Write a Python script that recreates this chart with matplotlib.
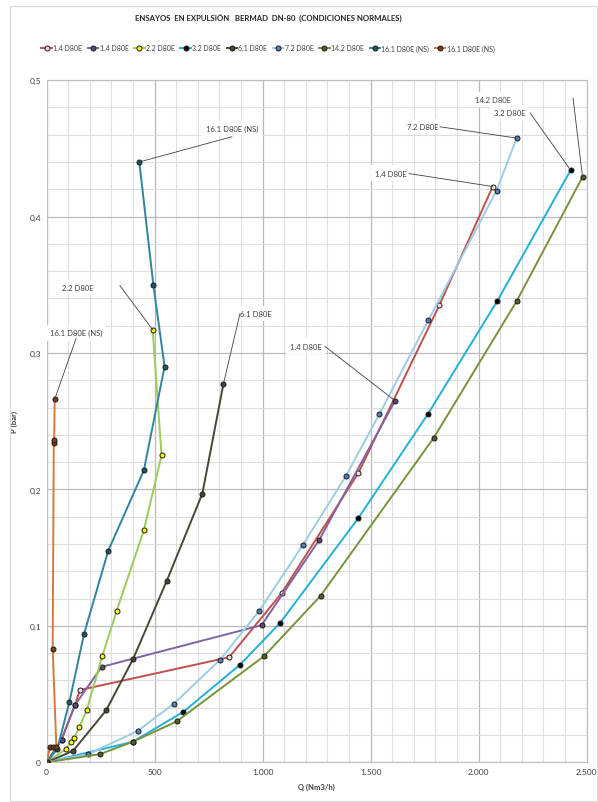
import matplotlib
matplotlib.use("Agg")
import matplotlib.pyplot as plt
from matplotlib.ticker import MultipleLocator, FuncFormatter
from matplotlib.patches import Rectangle

plt.rcParams['font.family'] = ['Lato', 'DejaVu Sans']

# Caudal Q (Nm3/h) y presión P (bar) de cada ensayo
q_14a = [0, 69, 131, 154, 845, 1088, 1443, 1818, 2065]
p_14a = [0, 0.0166, 0.042, 0.053, 0.077, 0.124, 0.212, 0.335, 0.422]

q_14b = [0, 69, 131, 255, 995, 1262, 1613]
p_14b = [0, 0.0166, 0.042, 0.070, 0.1005, 0.163, 0.265]

q_22 = [0, 89, 111, 128, 151, 185, 258, 324, 450, 532, 491]
p_22 = [0, 0.0097, 0.0146, 0.018, 0.026, 0.038, 0.078, 0.111, 0.170, 0.225, 0.317]

q_32 = [0, 398, 633, 895, 1080, 1443, 1764, 2086, 2426]
p_32 = [0, 0.015, 0.037, 0.0715, 0.102, 0.179, 0.255, 0.338, 0.434]

q_61 = [0, 123, 275, 401, 556, 721, 818]
p_61 = [0, 0.0085, 0.038, 0.076, 0.133, 0.197, 0.277]

q_72 = [0, 193, 421, 589, 802, 984, 1185, 1386, 1540, 1767, 2083, 2176]
p_72 = [0, 0.006, 0.023, 0.043, 0.075, 0.111, 0.159, 0.210, 0.255, 0.324, 0.419, 0.4575]

q_142 = [0, 247, 398, 602, 1008, 1268, 1793, 2176, 2481]
p_142 = [0, 0.006, 0.015, 0.030, 0.078, 0.122, 0.238, 0.338, 0.429]

q_161a = [0, 49, 105, 173, 285, 450, 546, 494, 429]
p_161a = [0, 0.0097, 0.044, 0.094, 0.155, 0.214, 0.290, 0.350, 0.440]

q_161b = [0, 15, 30, 45, 28, 33, 35, 37]
p_161b = [0, 0.011, 0.011, 0.011, 0.083, 0.234, 0.236, 0.266]

series = [
    ('1.4 D80E', q_14a, p_14a, '#C0504D', '#F2DCDB'),
    ('1.4 D80E', q_14b, p_14b, '#8064A2', '#5F497A'),
    ('2.2 D80E', q_22, p_22, '#9BCB59', '#FFFF00'),
    ('3.2 D80E', q_32, p_32, '#22B0D6', '#000000'),
    ('6.1 D80E', q_61, p_61, '#4A4536', '#4A4536'),
    ('7.2 D80E', q_72, p_72, '#9DCCE6', '#4F81BD'),
    ('14.2 D80E', q_142, p_142, '#77933C', '#4F6228'),
    ('16.1 D80E (NS)', q_161a, p_161a, '#31849B', '#215968'),
    ('16.1 D80E (NS)', q_161b, p_161b, '#D57A3A', '#7F3F10'),
]

fig = plt.figure(figsize=(5.98, 8.03), dpi=100)
ax = fig.add_axes([0.078, 0.0494, 0.903, 0.8496])

# borde del área del gráfico
fig.patches.append(Rectangle((10 / 598, 0.001), 587 / 598, 1 - 7 / 803 - 0.001,
                             transform=fig.transFigure, fill=False,
                             edgecolor='#D9D9D9', linewidth=0.8))

for name, q, p, color, mface in series:
    ax.plot(q, p, color=color, linewidth=1.4, marker='o', markersize=3.6,
            markerfacecolor=mface, markeredgecolor='#1A1A1A',
            markeredgewidth=0.7, label=name, zorder=3)

ax.set_xlim(0, 2500)
ax.set_ylim(0, 0.5)
ax.xaxis.set_major_locator(MultipleLocator(500))
ax.xaxis.set_minor_locator(MultipleLocator(100))
ax.yaxis.set_major_locator(MultipleLocator(0.1))
ax.yaxis.set_minor_locator(MultipleLocator(0.02))
ax.grid(which='major', color='#B8B8B8', linewidth=0.9)
ax.grid(which='minor', color='#DEDEDE', linewidth=0.8)
ax.set_axisbelow(True)
ax.tick_params(which='both', length=0, labelsize=6, colors='#404040', pad=4)
ax.xaxis.set_major_formatter(FuncFormatter(lambda v, _: f"{int(v):,}".replace(',', '.')))
ax.yaxis.set_major_formatter(FuncFormatter(lambda v, _: f"{v:g}".replace('.', ',')))
for s in ax.spines.values():
    s.set_color('#BFBFBF')
    s.set_linewidth(0.8)

ax.set_xlabel('Q (Nm3/h)', fontsize=5.5, fontweight='bold', color='#404040', labelpad=6)
ax.set_ylabel('P (bar)', fontsize=5.5, fontweight='bold', color='#404040', labelpad=8)

# etiquetas de serie con línea guía hasta el último punto
labels = [
    ('16.1 D80E (NS)', q_161a, p_161a, (857, 0.4644), (858, 0.4585)),
    ('2.2 D80E', q_22, p_22, (145, 0.348), (339, 0.3494)),
    ('6.1 D80E', q_61, p_61, (969, 0.329), (895, 0.3289)),
    ('16.1 D80E (NS)', q_161b, p_161b, (136, 0.3148), (136, 0.3106)),
    ('1.4 D80E', q_14b, p_14b, (1201, 0.305), (1289, 0.3048)),
    ('1.4 D80E', q_14a, p_14a, (1594, 0.4319), (1678, 0.4315)),
    ('7.2 D80E', q_72, p_72, (1740, 0.466), (1821, 0.4658)),
    ('3.2 D80E', q_32, p_32, (2143, 0.4759), (2238, 0.476)),
    ('14.2 D80E', q_142, p_142, (2066, 0.486), (2437, 0.4869)),
]
for text, q, p, tpos, lpos in labels:
    ax.text(tpos[0], tpos[1], text, fontsize=5.5, color='#404040',
            ha='center', va='center', zorder=4,
            bbox=dict(facecolor='white', edgecolor='none', pad=3))
    ax.annotate('', xy=(q[-1], p[-1]), xytext=lpos,
                arrowprops=dict(arrowstyle='-', color='#404040', linewidth=0.6,
                                shrinkA=0, shrinkB=0), zorder=5)

fig.text(268 / 598, 1 - 18 / 803, 'ENSAYOS  EN EXPULSIÓN   BERMAD  DN-80  (CONDICIONES NORMALES)',
         ha='center', va='center', fontsize=5.6, fontweight='bold', color='#262626')

fig.legend(loc='center', bbox_to_anchor=(268 / 598, 1 - 49 / 803), ncol=9,
           frameon=False, fontsize=5.0, handlelength=1.5, handletextpad=0.2,
           columnspacing=0.8, labelcolor='#404040')

fig.savefig('out.png', dpi=100, facecolor='white')
